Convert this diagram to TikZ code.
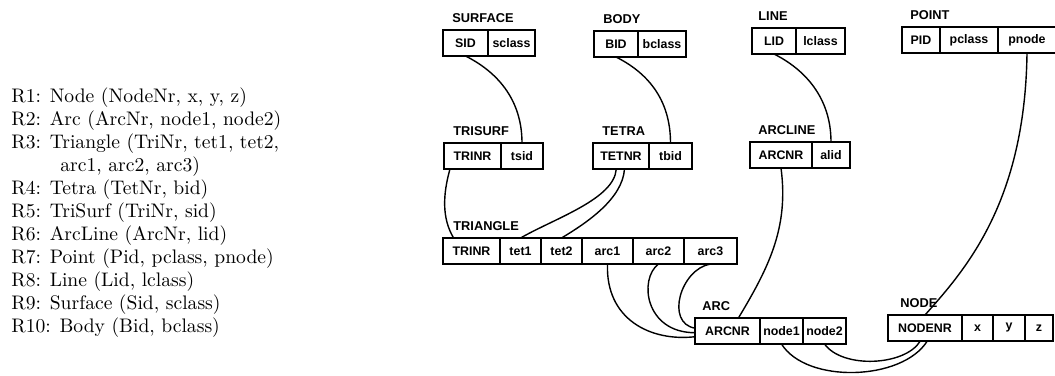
\documentclass[tikz,border=0pt]{standalone}
\usepackage{fontspec}
\setsansfont{Liberation Sans}
\usepackage{tikz}
\usetikzlibrary{calc,positioning}

\begin{document}
\begin{tikzpicture}[
  x=0.5pt, y=-0.5pt,
  cell/.style={rectangle, draw, line width=0.7pt, minimum height=13pt, inner sep=0pt, outer sep=0pt,
    font=\sffamily\bfseries\fontsize{6.2}{7}\selectfont},
  lbl/.style={anchor=base west, inner sep=0pt, font=\sffamily\bfseries\fontsize{6.4}{7}\selectfont},
  link/.style={line width=0.7pt}
]
  \useasboundingbox (0,0) rectangle (1055,375);

  % relational schema
  \node[anchor=north west, inner sep=0pt, align=left, font=\fontsize{9.8}{11.5}\selectfont] (rels) at (11,87) {%
    R1: Node (NodeNr, x, y, z)\\
    R2: Arc (ArcNr, node1, node2)\\
    R3: Triangle (TriNr, tet1, tet2,\\
    \hspace*{24.5pt}arc1, arc2, arc3)\\
    R4: Tetra (TetNr, bid)\\
    R5: TriSurf (TriNr, sid)\\
    R6: ArcLine (ArcNr, lid)\\
    R7: Point (Pid, pclass, pnode)\\
    R8: Line (Lid, lclass)\\
    R9: Surface (Sid, sclass)\\
    R10: Body (Bid, bclass)};

  % top row
  \node[cell, minimum width=22.5pt, anchor=north west] (surfSid) at (443,30) {SID};
  \node[cell, minimum width=23.5pt, right=0pt of surfSid] (surfSclass) {sclass};
  \node[lbl] (surfTitle) at ($(surfSid.north west)+(9,-7.5)$) {SURFACE};

  \node[cell, minimum width=22pt, anchor=north west] (bodyBid) at (594,31) {BID};
  \node[cell, minimum width=24pt, right=0pt of bodyBid] (bodyBclass) {bclass};
  \node[lbl] (bodyTitle) at ($(bodyBid.north west)+(9,-7.5)$) {BODY};

  \node[cell, minimum width=22pt, anchor=north west] (lineLid) at (752,28) {LID};
  \node[cell, minimum width=24.5pt, right=0pt of lineLid] (lineLclass) {lclass};
  \node[lbl] (lineTitle) at ($(lineLid.north west)+(6,-7.5)$) {LINE};

  \node[cell, minimum width=19pt, anchor=north west] (pointPid) at (902,27) {PID};
  \node[cell, minimum width=29pt, right=0pt of pointPid] (pointPclass) {pclass};
  \node[cell, minimum width=29pt, right=0pt of pointPclass] (pointPnode) {pnode};
  \node[lbl] (pointTitle) at ($(pointPid.north west)+(8,-7.5)$) {POINT};

  % second row
  \node[cell, minimum width=28.5pt, anchor=north west] (trisurfTrinr) at (444,143) {TRINR};
  \node[cell, minimum width=21pt, right=0pt of trisurfTrinr] (trisurfTsid) {tsid};
  \node[lbl] (trisurfTitle) at ($(trisurfTrinr.north west)+(9,-7.5)$) {TRISURF};

  \node[cell, minimum width=28pt, anchor=north west] (tetraTetnr) at (593,143) {TETNR};
  \node[cell, minimum width=21.5pt, right=0pt of tetraTetnr] (tetraTbid) {tbid};
  \node[lbl] (tetraTitle) at ($(tetraTetnr.north west)+(9,-7.5)$) {TETRA};

  \node[cell, minimum width=31pt, anchor=north west] (arclineArcnr) at (750,142) {ARCNR};
  \node[cell, minimum width=19pt, right=0pt of arclineArcnr] (arclineAlid) {alid};
  \node[lbl] (arclineTitle) at ($(arclineArcnr.north west)+(8,-7.5)$) {ARCLINE};

  % triangle
  \node[cell, minimum width=28.5pt, anchor=north west] (triTrinr) at (443,238) {TRINR};
  \node[cell, minimum width=20.5pt, right=0pt of triTrinr] (triTet1) {tet1};
  \node[cell, minimum width=20.5pt, right=0pt of triTet1] (triTet2) {tet2};
  \node[cell, minimum width=25.5pt, right=0pt of triTet2] (triArc1) {arc1};
  \node[cell, minimum width=25.5pt, right=0pt of triArc1] (triArc2) {arc2};
  \node[cell, minimum width=26.5pt, right=0pt of triArc2] (triArc3) {arc3};
  \node[lbl] (triTitle) at ($(triTrinr.north west)+(10,-7.5)$) {TRIANGLE};

  % arc and node
  \node[cell, minimum width=32.5pt, anchor=north west] (arcArcnr) at (695,318) {ARCNR};
  \node[cell, minimum width=21.5pt, right=0pt of arcArcnr] (arcNode1) {node1};
  \node[cell, minimum width=21.5pt, right=0pt of arcNode1] (arcNode2) {node2};
  \node[lbl] (arcTitle) at ($(arcArcnr.north west)+(7,-7.5)$) {ARC};

  \node[cell, minimum width=37pt, anchor=north west] (nodeNodenr) at (888,315) {NODENR};
  \node[cell, minimum width=15.5pt, right=0pt of nodeNodenr] (nodeX) {x};
  \node[cell, minimum width=16pt, right=0pt of nodeX] (nodeY) {y};
  \node[cell, minimum width=14pt, right=0pt of nodeY] (nodeZ) {z};
  \node[lbl] (nodeTitle) at ($(nodeNodenr.north west)+(12,-7.5)$) {NODE};

  % links
  \draw[link] (surfSid.south) .. controls +(30,15) and +(0,-45) .. (trisurfTsid.north);
  \draw[link] (bodyBid.south) .. controls +(30,15) and +(0,-45) .. (tetraTbid.north);
  \draw[link] (lineLid.south) .. controls +(30,15) and +(0,-45) .. (arclineAlid.north);
  \draw[link] (pointPnode.south) .. controls +(-2,150) and +(40,-45) .. (nodeNodenr.north);
  \draw[link] (arclineArcnr.south) .. controls +(8,60) and +(30,-50) .. (arcArcnr.50);
  \draw[link] (trisurfTrinr.210) .. controls +(-7,25) and +(-12,-20) .. (triTrinr.144);
  \draw[link] (tetraTetnr.250) .. controls +(-2,30) and +(35,-20) .. (triTet1.north);
  \draw[link] (tetraTetnr.285) .. controls +(-2,30) and +(25,-15) .. (triTet2.north);
  \draw[link] (triArc1.south) .. controls +(-2,55) and +(-45,5) .. (arcArcnr.190);
  \draw[link] (triArc2.south) .. controls +(-20,15) and +(-50,0) .. (arcArcnr.183);
  \draw[link] (triArc3.south) .. controls +(-30,5) and +(-30,-5) .. (arcArcnr.175);
  \draw[link] (arcNode1.south) .. controls +(25,40) and +(-25,40) .. (nodeNodenr.-80);
  \draw[link] (arcNode2.south) .. controls +(18,25) and +(-15,25) .. (nodeNodenr.-110);
\end{tikzpicture}
\end{document}
